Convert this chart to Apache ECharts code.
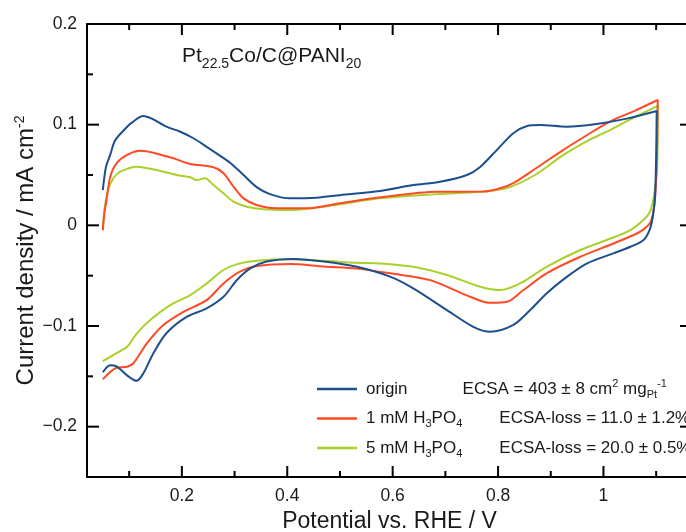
<!DOCTYPE html>
<html>
<head>
<meta charset="utf-8">
<script src="https://cdn.jsdelivr.net/npm/echarts@6/dist/echarts.min.js"></script>
<style>
  html, body { margin: 0; padding: 0; background: #fff; }
  #chart { width: 686px; height: 532px; }
</style>
</head>
<body>
<div id="chart"></div>
<script>
// Cyclic voltammograms: anodic sweep 0.05 -> 1.1 V, then cathodic sweep back to 0.05 V.
// Each point is [potential / V, current density / mA cm^-2].
const origin = [
  [0.050, 0.035], [0.056, 0.058], [0.064, 0.070], [0.073, 0.084], [0.089, 0.094],
  [0.105, 0.102], [0.127, 0.1087], [0.143, 0.106], [0.171, 0.098], [0.197, 0.093],
  [0.222, 0.0865], [0.247, 0.078], [0.270, 0.070], [0.293, 0.0615], [0.317, 0.050],
  [0.342, 0.038], [0.367, 0.031], [0.405, 0.0268], [0.456, 0.0275], [0.500, 0.030],
  [0.576, 0.0341], [0.639, 0.040], [0.690, 0.0433], [0.741, 0.050], [0.766, 0.058],
  [0.798, 0.075], [0.829, 0.0915], [0.855, 0.0987], [0.880, 0.0997], [0.930, 0.098],
  [0.987, 0.1007], [1.044, 0.106], [1.101, 0.1136],
  [1.100, 0.070], [1.098, 0.030], [1.094, 0.010], [1.088, -0.004], [1.076, -0.0146],
  [1.051, -0.0213], [1.019, -0.0278], [0.969, -0.0378], [0.931, -0.051], [0.892, -0.0676],
  [0.861, -0.0842], [0.829, -0.099], [0.785, -0.1058], [0.753, -0.1008], [0.703, -0.0842],
  [0.639, -0.0626], [0.595, -0.051], [0.532, -0.0412], [0.469, -0.036], [0.412, -0.0335],
  [0.361, -0.036], [0.330, -0.0427], [0.305, -0.054], [0.279, -0.071], [0.247, -0.0825],
  [0.209, -0.091], [0.171, -0.107], [0.146, -0.127], [0.127, -0.147], [0.114, -0.1545],
  [0.096, -0.149], [0.076, -0.140], [0.064, -0.139], [0.050, -0.146]
];

const h3po4_1mM = [
  [0.050, -0.005], [0.053, 0.012], [0.057, 0.025], [0.064, 0.048], [0.076, 0.0616],
  [0.096, 0.070], [0.121, 0.0742], [0.146, 0.0722], [0.184, 0.0666], [0.216, 0.061],
  [0.260, 0.0577], [0.279, 0.0517], [0.298, 0.0384], [0.317, 0.0268], [0.342, 0.0202],
  [0.380, 0.0169], [0.437, 0.0169], [0.500, 0.0219], [0.576, 0.0278], [0.684, 0.0334],
  [0.772, 0.0335], [0.804, 0.0368], [0.829, 0.042], [0.870, 0.056], [0.924, 0.075],
  [0.970, 0.090], [1.012, 0.103], [1.060, 0.114], [1.103, 0.1245],
  [1.101, 0.060], [1.097, 0.022], [1.090, 0.004], [1.076, -0.004], [1.057, -0.0096],
  [1.019, -0.018], [0.956, -0.0312], [0.892, -0.0477], [0.848, -0.0643], [0.817, -0.076],
  [0.785, -0.077], [0.747, -0.071], [0.671, -0.0544], [0.595, -0.0477], [0.532, -0.043],
  [0.469, -0.041], [0.405, -0.0385], [0.342, -0.0405], [0.310, -0.046], [0.279, -0.0577],
  [0.247, -0.0743], [0.203, -0.0859], [0.165, -0.099], [0.134, -0.117], [0.108, -0.137],
  [0.096, -0.1405], [0.076, -0.1415], [0.050, -0.153]
];

const h3po4_5mM = [
  [0.050, -0.004], [0.053, 0.015], [0.060, 0.035], [0.070, 0.0467], [0.083, 0.0533],
  [0.115, 0.0583], [0.152, 0.055], [0.190, 0.050], [0.216, 0.0477], [0.228, 0.045],
  [0.244, 0.0467], [0.260, 0.040], [0.279, 0.0318], [0.298, 0.0235], [0.323, 0.0185],
  [0.355, 0.0159], [0.405, 0.0152], [0.469, 0.0185], [0.500, 0.0209], [0.576, 0.0268],
  [0.684, 0.031], [0.766, 0.0334], [0.817, 0.037], [0.870, 0.050], [0.924, 0.070],
  [0.970, 0.084], [1.006, 0.093], [1.050, 0.105], [1.103, 0.1186],
  [1.102, 0.060], [1.096, 0.030], [1.090, 0.016], [1.082, 0.0085], [1.051, -0.0047],
  [1.006, -0.0146], [0.956, -0.0245], [0.892, -0.0412], [0.842, -0.0577], [0.804, -0.0643],
  [0.766, -0.061], [0.703, -0.0494], [0.639, -0.0412], [0.576, -0.0378], [0.532, -0.0372],
  [0.469, -0.0352], [0.405, -0.0338], [0.342, -0.0352], [0.305, -0.0385], [0.279, -0.0444],
  [0.247, -0.0577], [0.216, -0.0693], [0.178, -0.0792], [0.140, -0.094], [0.115, -0.107],
  [0.096, -0.1207], [0.076, -0.127], [0.050, -0.135]
];

const seriesNames = ['origin', '1 mM H3PO4', '5 mM H3PO4'];
const seriesColors = ['#1d4f8f', '#ff4a24', '#a9d12a'];

// Axis ranges and tick positions
const xRange = [0.02, 1.168];
const yRange = [-0.25, 0.2];
const xMajorTicks = [0.2, 0.4, 0.6, 0.8, 1.0];
const xMinorTicks = [0.1, 0.3, 0.5, 0.7, 0.9, 1.1];
const yMajorTicks = [-0.2, -0.1, 0, 0.1, 0.2];
const yMinorTicks = [-0.15, -0.05, 0.05, 0.15];

const FONT = 'Liberation Sans, Arial, sans-serif';
const INK = '#1a1a1a';
const MAJOR_LEN = 11;
const MINOR_LEN = 6;

// Legend text: name column plus ECSA column (rich text)
const legendText = {
  'origin': '{p|}{n|origin}{g1|}{e|ECSA = 403 ± 8 cm}{sup|2}{e| mg}{sub|Pt}{sup|-1}',
  '1 mM H3PO4': '{p|}{n|1 mM H}{sub|3}{n|PO}{sub|4}{g2|}{e|ECSA-loss = 11.0 ± 1.2%}',
  '5 mM H3PO4': '{p|}{n|5 mM H}{sub|3}{n|PO}{sub|4}{g2|}{e|ECSA-loss = 20.0 ± 0.5%}'
};

function fmtX(v) { return Math.abs(v - 1) < 1e-9 ? '1' : v.toFixed(1); }
function fmtY(v) {
  if (Math.abs(v) < 1e-9) return '0';
  return (v < 0 ? '\u2212' : '') + Math.abs(v).toFixed(1);
}

// Inward frame ticks on all four sides: [axis, value, length]
const frameTicks = []
  .concat(xMajorTicks.map(function (v) { return ['x', v, MAJOR_LEN]; }))
  .concat(xMinorTicks.map(function (v) { return ['x', v, MINOR_LEN]; }))
  .concat(yMajorTicks.map(function (v) { return ['y', v, MAJOR_LEN + 1]; }))
  .concat(yMinorTicks.map(function (v) { return ['y', v, MINOR_LEN]; }));

function renderFrameTick(params, api) {
  const cs = params.coordSys;
  const axis = api.value(0) === 0 ? 'x' : 'y';
  const v = api.value(1);
  const len = api.value(2);
  const style = { stroke: '#000', lineWidth: 2 };
  const children = [];
  if (axis === 'x') {
    const px = api.coord([v, yRange[0]])[0];
    children.push({ type: 'line', shape: { x1: px, y1: cs.y + cs.height, x2: px, y2: cs.y + cs.height - len }, style: style });
    children.push({ type: 'line', shape: { x1: px, y1: cs.y, x2: px, y2: cs.y + len }, style: style });
  } else {
    const py = api.coord([xRange[0], v])[1];
    children.push({ type: 'line', shape: { x1: cs.x, y1: py, x2: cs.x + len, y2: py }, style: style });
    children.push({ type: 'line', shape: { x1: cs.x + cs.width, y1: py, x2: cs.x + cs.width - len, y2: py }, style: style });
  }
  return { type: 'group', children: children };
}

function xAxisDef(position, withLabels) {
  return {
    type: 'value', position: position, min: xRange[0], max: xRange[1],
    axisLine: { show: true, onZero: false, lineStyle: { color: '#000', width: 2 } },
    axisTick: { show: false },
    axisLabel: withLabels
      ? { show: true, customValues: xMajorTicks, formatter: fmtX, fontSize: 17.5, color: INK,
          fontFamily: FONT, margin: 10 }
      : { show: false },
    splitLine: { show: false }
  };
}
function yAxisDef(position, withLabels) {
  return {
    type: 'value', position: position, min: yRange[0], max: yRange[1],
    axisLine: { show: true, onZero: false, lineStyle: { color: '#000', width: 2 } },
    axisTick: { show: false },
    axisLabel: withLabels
      ? { show: true, customValues: yMajorTicks, formatter: fmtY, fontSize: 17.5, color: INK,
          fontFamily: FONT, margin: 10 }
      : { show: false },
    splitLine: { show: false }
  };
}

const xMain = xAxisDef('bottom', true);
xMain.name = 'Potential vs. RHE / V';
xMain.nameLocation = 'middle';
xMain.nameGap = 32;
xMain.nameTextStyle = { fontSize: 23, color: INK, fontFamily: FONT };

const yMain = yAxisDef('left', true);
yMain.name = '{t|Current density / mA cm}{s|-2}';
yMain.nameLocation = 'middle';
yMain.nameGap = 48;
yMain.nameMoveOverlap = false;
yMain.nameRotate = 90;
yMain.nameTextStyle = {
  color: INK, fontFamily: FONT,
  rich: {
    t: { fontSize: 24, lineHeight: 26, color: INK, fontFamily: FONT },
    s: { fontSize: 14, lineHeight: 26, verticalAlign: 'top', color: INK, fontFamily: FONT, padding: [0, 0, 10, 0] }
  }
};

const chart = echarts.init(document.getElementById('chart'), null, { renderer: 'canvas' });

chart.setOption({
  animation: false,
  backgroundColor: '#fff',
  textStyle: { fontFamily: FONT },
  title: {
    text: '{a|Pt}{b|22.5}{a|Co/C@PANI}{b|20}',
    left: 177, top: 36,
    textStyle: {
      fontWeight: 'normal',
      rich: {
        a: { fontSize: 21, fontWeight: 'normal', lineHeight: 30, color: INK, fontFamily: FONT },
        b: { fontSize: 14, fontWeight: 'normal', lineHeight: 30, verticalAlign: 'bottom', color: INK, fontFamily: FONT }
      }
    }
  },
  grid: { left: 87, right: -6, top: 24, bottom: 55, containLabel: false, outerBoundsMode: 'none' },
  xAxis: [xMain, xAxisDef('top', false)],
  yAxis: [yMain, yAxisDef('right', false)],
  legend: {
    orient: 'vertical',
    left: 317, top: 378, padding: 0,
    icon: 'rect',
    itemWidth: 40, itemHeight: 2.5, itemGap: 10,
    selectedMode: false,
    data: seriesNames,
    formatter: function (name) { return legendText[name]; },
    textStyle: {
      color: INK, fontFamily: FONT,
      rich: {
        p: { width: 4, height: 22 },
        n: { fontSize: 17, lineHeight: 22, color: INK, fontFamily: FONT },
        e: { fontSize: 17, lineHeight: 22, color: INK, fontFamily: FONT },
        g1: { width: 55 },
        g2: { width: 37 },
        sub: { fontSize: 11, lineHeight: 22, verticalAlign: 'bottom', color: INK, fontFamily: FONT },
        sup: { fontSize: 11, lineHeight: 22, verticalAlign: 'top', color: INK, fontFamily: FONT }
      }
    }
  },
  series: [origin, h3po4_1mM, h3po4_5mM].map(function (data, i) {
    return {
      name: seriesNames[i],
      type: 'line',
      xAxisIndex: 0, yAxisIndex: 0,
      data: data,
      showSymbol: false,
      symbol: 'none',
      smooth: 0.3,
      lineStyle: { color: seriesColors[i], width: 2 },
      itemStyle: { color: seriesColors[i] },
      z: 3 - i
    };
  }).concat([{
    name: 'frame ticks',
    type: 'custom',
    xAxisIndex: 0, yAxisIndex: 0,
    clip: false,
    silent: true,
    z: 5,
    encode: { x: -1, y: -1 },
    dimensions: ['axis', 'value', 'len'],
    data: frameTicks.map(function (t) { return [t[0] === 'x' ? 0 : 1, t[1], t[2]]; }),
    renderItem: renderFrameTick
  }])
});
</script>
</body>
</html>
